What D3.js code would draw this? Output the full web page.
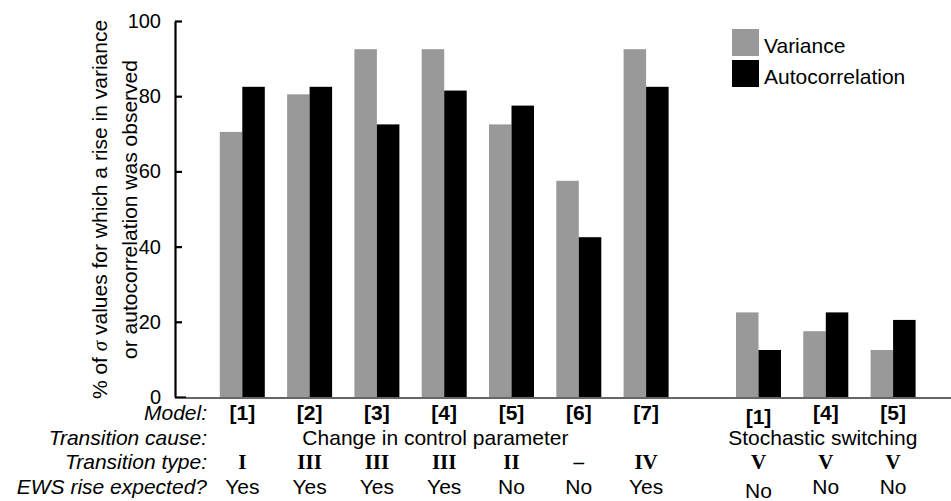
<!DOCTYPE html>
<html>
<head>
<meta charset="utf-8">
<script src="https://cdn.jsdelivr.net/npm/d3@7"></script>
<style>
  body { margin: 0; background: #fff; }
  text { font-family: "Liberation Sans", Arial, sans-serif; fill: #000; }
</style>
</head>
<body>
<div id="chart"></div>
<script>
// data
var models = ["[1]", "[2]", "[3]", "[4]", "[5]", "[6]", "[7]", "[1]", "[4]", "[5]"];
var variance = [70.5, 80.5, 92.5, 92.5, 72.5, 57.5, 92.5, 22.5, 17.5, 12.5];
var autocorr = [82.5, 82.5, 72.5, 81.5, 77.5, 42.5, 82.5, 12.5, 22.5, 20.5];
var types = ["I", "III", "III", "III", "II", "\u2013", "IV", "V", "V", "V"];
var expected = ["Yes", "Yes", "Yes", "Yes", "No", "No", "Yes", "No", "No", "No"];
var causes = ["Change in control parameter", "Stochastic switching"];
var yTicks = [0, 20, 40, 60, 80, 100];

var width = 951, height = 501;

var svg = d3.select("#chart").append("svg")
    .attr("width", width)
    .attr("height", height);

// slot positions: 7 models, then a gap, then 3 more
function slot(i) { return i < 7 ? i : i + 0.67; }

var x = d3.scaleLinear().domain([0, 1]).range([242.3, 309.6]);
var y = d3.scaleLinear().domain([0, 100]).range([397, 21]);
var bw = 22.5;

// baseline
svg.append("line")
    .attr("x1", 186).attr("x2", width)
    .attr("y1", 398).attr("y2", 398)
    .attr("stroke", "#333").attr("stroke-width", 1.5);

// bars
var groups = svg.selectAll("g.grp")
    .data(models.map(function(m, i) { return i; }))
    .enter().append("g").attr("class", "grp");

groups.append("rect")
    .attr("x", function(i) { return x(slot(i)) - bw; })
    .attr("y", function(i) { return y(variance[i]); })
    .attr("width", bw)
    .attr("height", function(i) { return y(0) - y(variance[i]); })
    .attr("fill", "#999999");

groups.append("rect")
    .attr("x", function(i) { return x(slot(i)); })
    .attr("y", function(i) { return y(autocorr[i]); })
    .attr("width", bw)
    .attr("height", function(i) { return y(0) - y(autocorr[i]); })
    .attr("fill", "#000");

// y axis
var yAxis = d3.axisLeft(y).tickValues(yTicks).tickSizeInner(-7).tickSizeOuter(0).tickPadding(14);
var ga = svg.append("g").attr("transform", "translate(175,0)").call(yAxis);
ga.select(".domain").attr("stroke", "#000").attr("stroke-width", 2.2);
ga.selectAll(".tick line").attr("stroke", "#000").attr("stroke-width", 2.2);
ga.selectAll(".tick text")
    .style("font-family", "'Liberation Sans', Arial, sans-serif")
    .style("font-size", "20px").attr("fill", "#000");
ga.selectAll(".tick").filter(function(d) { return d === 0; }).select("line").attr("x2", 11);

// y label
var yl = svg.append("text")
    .attr("transform", "translate(107,209.5) rotate(-90)")
    .attr("text-anchor", "middle")
    .style("font-size", "21px");
yl.append("tspan").text("% of ");
yl.append("tspan").text("\u03C3").style("font-family", "'Liberation Serif', serif").style("font-style", "italic");
yl.append("tspan").text(" values for which a rise in variance");
svg.append("text")
    .attr("transform", "translate(137,209.5) rotate(-90)")
    .attr("text-anchor", "middle")
    .style("font-size", "21px")
    .text("or autocorrelation was observed");

// row labels
var rowY = [420, 445, 469, 494];
var rowNames = ["Model:", "Transition cause:", "Transition type:", "EWS rise expected?"];
svg.selectAll("text.rowlab")
    .data(rowNames)
    .enter().append("text")
    .attr("class", "rowlab")
    .attr("x", 207)
    .attr("y", function(d, i) { return rowY[i]; })
    .attr("text-anchor", "end")
    .style("font-size", "21px")
    .style("font-style", "italic")
    .text(function(d) { return d; });

function shift(i) { return i === 7 ? 4 : 0; }

groups.append("text")
    .attr("x", function(i) { return x(slot(i)); })
    .attr("y", function(i) { return rowY[0] + shift(i); })
    .attr("text-anchor", "middle")
    .style("font-size", "21px").style("font-weight", "bold")
    .text(function(i) { return models[i]; });

groups.append("text")
    .attr("x", function(i) { return x(slot(i)); })
    .attr("y", rowY[2])
    .attr("text-anchor", "middle")
    .style("font-family", "'Liberation Serif', 'Times New Roman', serif")
    .style("font-size", "21px").style("font-weight", "bold")
    .text(function(i) { return types[i]; });

groups.append("text")
    .attr("x", function(i) { return x(slot(i)); })
    .attr("y", function(i) { return rowY[3] + shift(i); })
    .attr("text-anchor", "middle")
    .style("font-size", "21px")
    .text(function(i) { return expected[i]; });

svg.selectAll("text.cause")
    .data(causes)
    .enter().append("text")
    .attr("class", "cause")
    .attr("x", function(d, i) { return i === 0 ? x(2.87) : x(slot(8)) - 3; })
    .attr("y", rowY[1])
    .attr("text-anchor", "middle")
    .style("font-size", "21px")
    .text(function(d) { return d; });

// legend
var legend = [["Variance", "#999999"], ["Autocorrelation", "#000"]];
var lg = svg.selectAll("g.leg").data(legend).enter().append("g")
    .attr("transform", function(d, i) { return "translate(732," + (29 + i * 31) + ")"; });
lg.append("rect").attr("width", 27).attr("height", 27).attr("fill", function(d) { return d[1]; });
lg.append("text").attr("x", 32).attr("y", 24)
    .style("font-size", "21px")
    .text(function(d) { return d[0]; });
</script>
</body>
</html>
